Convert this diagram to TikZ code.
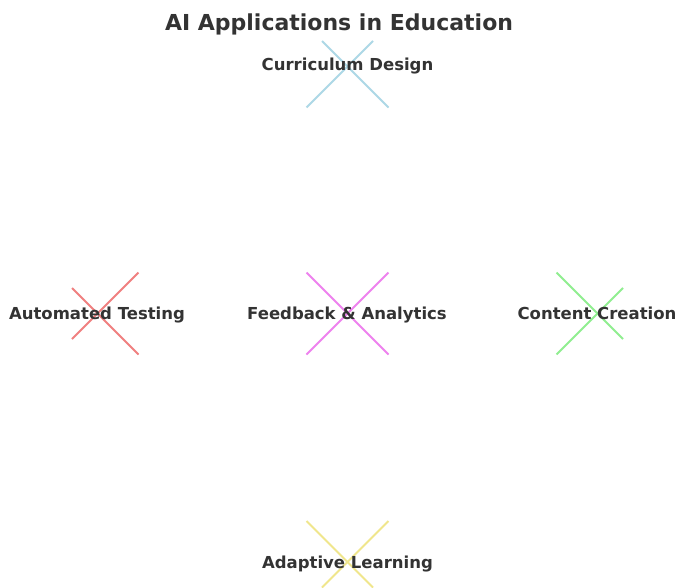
\documentclass[tikz,border=0pt]{standalone}
\usepackage{fontspec}
\setmainfont{DejaVu Sans}
\definecolor{txt}{HTML}{333333}
\definecolor{cblue}{HTML}{ADD8E6}
\definecolor{cred}{HTML}{F08080}
\definecolor{cgreen}{HTML}{90EE90}
\definecolor{cyellow}{HTML}{F0E68C}
\definecolor{cviolet}{HTML}{EE82EE}
\begin{document}
\begin{tikzpicture}[x=1pt,y=-1pt,
  lbl/.style={inner sep=0pt,text=txt,font=\bfseries\fontsize{16.5}{20}\selectfont,anchor=base},
  ttl/.style={inner sep=0pt,text=txt,font=\bfseries\fontsize{22}{26}\selectfont,anchor=base},
  xm/.style={line width=1.9pt}]
\useasboundingbox (0,0) rectangle (676,587);
\clip (0,0) rectangle (676,587);
\fill[white] (0,0) rectangle (676,587);
% marker centres
\coordinate (pc) at (347.5,66.5);
\coordinate (pa) at (97.5,313.5);
\coordinate (pf) at (347.5,313.5);
\coordinate (pk) at (597.5,313.5);
\coordinate (pl) at (347.5,562);
% markers
\draw[xm,cblue] (pc) ++(-25.5,-25.5) -- ++(66.5,66.5);
\draw[xm,cblue] (pc) ++(25.5,-25.5) -- ++(-66.5,66.5);
\draw[xm,cred] (pa) ++(-25.5,-25.5) -- ++(66.5,66.5);
\draw[xm,cred] (pa) ++(41,-41) -- ++(-66.5,66.5);
\draw[xm,cviolet] (pf) ++(-41,-41) -- ++(82,82);
\draw[xm,cviolet] (pf) ++(41,-41) -- ++(-82,82);
\draw[xm,cgreen] (pk) ++(-41,-41) -- ++(66.5,66.5);
\draw[xm,cgreen] (pk) ++(25.5,-25.5) -- ++(-66.5,66.5);
\draw[xm,cyellow] (pl) ++(-41,-41) -- ++(66.5,66.5);
\draw[xm,cyellow] (pl) ++(41,-41) -- ++(-66.5,66.5);
% labels
\node[ttl] (title) at (339,30) {AI Applications in Education};
\node[lbl] (cd) at (347.5,70.5) {Curriculum Design};
\node[lbl] (at) at (97,319.5) {Automated Testing};
\node[lbl] (fa) at (347,319.5) {Feedback \& Analytics};
\node[lbl] (cc) at (597,319.5) {Content Creation};
\node[lbl] (al) at (347.5,568.5) {Adaptive Learning};
\end{tikzpicture}
\end{document}
